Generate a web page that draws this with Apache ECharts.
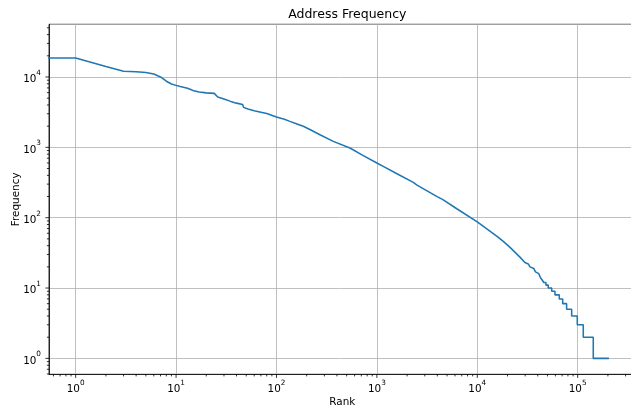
<!DOCTYPE html>
<html><head><meta charset="utf-8">
<script src="https://cdn.jsdelivr.net/npm/echarts@6/dist/echarts.min.js"></script>
<style>html,body{margin:0;padding:0;background:#fff}#c{width:631px;height:408px}</style>
</head><body><div id="c"></div>
<script>
const chartTitle = 'Address Frequency';
const xName = 'Rank';
const yName = 'Frequency';

// smooth (head + body) part of the rank/frequency curve
const ranks = [0.5, 1, 2, 3, 4, 5, 6, 7, 8, 9, 10, 11, 13, 14, 15, 17, 20, 24, 26, 30, 35, 40, 46, 47, 52, 60, 70, 80, 83,
  100, 120, 136, 160, 185, 220, 271, 368, 539, 732, 1000, 1158, 1585, 2306, 2512, 3981, 4500, 6310, 10000, 15850, 18150,
  21200, 26600, 29800];
const freqs = [18600, 18600, 14100, 12100, 11900, 11600, 11000, 10000, 8700, 7950, 7600, 7300, 6900, 6650, 6350, 6100, 5950, 5850, 5200, 4850, 4500, 4250, 4050, 3700, 3500, 3300, 3150, 3020, 2950,
  2700, 2500, 2340, 2150, 1990, 1760, 1510, 1216, 980, 761, 600, 536, 421, 318, 291, 199, 182, 133, 87, 53.7, 46,
  37.8, 27.5, 23];
// tail: integer frequency levels and the rank where each level starts
const stepLevels = [23, 22, 21, 20, 19, 18, 17, 16, 15, 14, 13, 12, 11, 10, 9, 8, 7, 6, 5, 4, 3, 2, 1];
const stepStarts = [29800, 31000, 32200, 33500, 35000, 36500, 38000, 39500, 41000, 42600, 44300, 46000, 48300, 50900, 55100, 59400, 65600, 70900, 77600, 87100, 99100, 113700, 143000];
const lastRank = 204700;

const xMajorTicks = [1, 10, 100, 1000, 10000, 100000];
const yMajorTicks = [1, 10, 100, 1000, 10000];
const minorMantissas = [2, 3, 4, 5, 6, 7, 8, 9];
const decades = [0.1, 1, 10, 100, 1000, 10000, 100000];

const xMin = 0.5425, xMax = 377500, yMin = 0.594, yMax = 56100;

const lineData = ranks.map((r, i) => [r, freqs[i]]);
stepLevels.forEach((k, i) => {
  const next = i + 1 < stepStarts.length ? stepStarts[i + 1] : lastRank;
  lineData.push([stepStarts[i], k]);
  lineData.push([next, k]);
});

const minorOf = (lo, hi) => {
  const out = [];
  decades.forEach(d => minorMantissas.forEach(m => { const v = +(m * d).toPrecision(6); if (v > lo && v < hi) out.push(v); }));
  return out;
};
const xMinorTicks = minorOf(xMin, xMax);
const yMinorTicks = minorOf(yMin, yMax);

const FONT = 'DejaVu Sans';
const sup = v => {
  const e = Math.log10(v);
  const r = Math.round(e);
  if (Math.abs(e - r) > 1e-9) return '';
  return '{b|10}{e|' + r + '}';
};
const richLabel = {
  b: { fontSize: 10.4, fontFamily: FONT, color: '#000', lineHeight: 15, verticalAlign: 'bottom' },
  e: { fontSize: 7.3, fontFamily: FONT, color: '#000', lineHeight: 8, verticalAlign: 'top' }
};

function tickSeries(values, axis, len) {
  return {
    type: 'custom', silent: true, clip: false, z: 5, animation: false,
    data: values.map(v => axis === 'x' ? [v, yMin] : [xMin, v]),
    renderItem: (params, api) => {
      const p = api.coord([api.value(0), api.value(1)]);
      const shape = axis === 'x'
        ? { x1: p[0], y1: p[1], x2: p[0], y2: p[1] + len }
        : { x1: p[0], y1: p[1], x2: p[0] - len, y2: p[1] };
      return { type: 'line', shape: shape, style: { stroke: '#000', lineWidth: 0.8 } };
    }
  };
}

const chart = echarts.init(document.getElementById('c'), null, { renderer: 'canvas' });
chart.setOption({
  animation: false,
  backgroundColor: '#fff',
  title: {
    text: chartTitle, left: 342.3, top: 3.5, textAlign: 'center',
    textStyle: { fontFamily: FONT, fontSize: 12.5, fontWeight: 'normal', color: '#000' }
  },
  grid: { left: 49, top: 24.3, width: 586.6, height: 350, containLabel: false, outerBoundsMode: 'none',
    show: true, borderColor: '#000', borderWidth: 0.8, backgroundColor: 'transparent' },
  xAxis: {
    type: 'log', logBase: 10, min: xMin, max: xMax,
    name: xName, nameLocation: 'middle', nameGap: 22.5, nameMoveOverlap: false,
    nameTextStyle: { fontFamily: FONT, fontSize: 10.4, color: '#000' },
    axisLine: { show: true, lineStyle: { color: '#000', width: 0.8 } },
    axisTick: { show: false },
    axisLabel: { margin: 5, formatter: sup, rich: richLabel, showMinLabel: false, showMaxLabel: false },
    splitLine: { show: true, lineStyle: { color: '#b0b0b0', width: 0.8 } }
  },
  yAxis: {
    type: 'log', logBase: 10, min: yMin, max: yMax,
    name: yName, nameLocation: 'middle', nameGap: 28, nameRotate: 90, nameMoveOverlap: false,
    nameTextStyle: { fontFamily: FONT, fontSize: 10.4, color: '#000' },
    axisLine: { show: true, lineStyle: { color: '#000', width: 0.8 } },
    axisTick: { show: false },
    axisLabel: { margin: 8, formatter: sup, rich: richLabel, showMinLabel: false, showMaxLabel: false },
    splitLine: { show: true, lineStyle: { color: '#b0b0b0', width: 0.8 } }
  },
  series: [
    {
      type: 'line', data: lineData, showSymbol: false, symbol: 'none', clip: true, z: 3,
      lineStyle: { color: '#1f77b4', width: 1.56 }
    },
    tickSeries(xMajorTicks, 'x', 3.6),
    tickSeries(xMinorTicks, 'x', 2.1),
    tickSeries(yMajorTicks, 'y', 3.6),
    tickSeries(yMinorTicks, 'y', 2.1)
  ]
});
</script></body></html>
